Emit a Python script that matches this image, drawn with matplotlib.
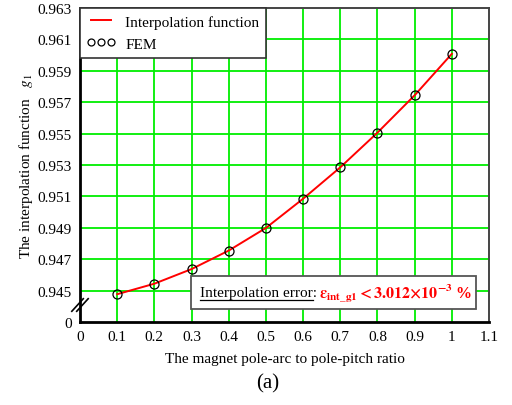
import matplotlib
matplotlib.use("Agg")
import matplotlib.pyplot as plt
from matplotlib.patches import Rectangle
from matplotlib.lines import Line2D

plt.rcParams['font.family'] = ['Liberation Serif', 'DejaVu Serif']
plt.rcParams['mathtext.fontset'] = 'stix'

ratio = [0.1, 0.2, 0.3, 0.4, 0.5, 0.6, 0.7, 0.8, 0.9, 1.0]
g1_fem = [0.94477, 0.94544, 0.94637, 0.94755, 0.94899, 0.95085, 0.95285, 0.95506, 0.95744, 0.96008]
g1_interp = [0.94477, 0.94544, 0.94637, 0.94755, 0.94899, 0.95085, 0.95285, 0.95506, 0.95744, 0.96008]
xticks = [0, 0.1, 0.2, 0.3, 0.4, 0.5, 0.6, 0.7, 0.8, 0.9, 1, 1.1]
xtick_labels = ['0', '0.1', '0.2', '0.3', '0.4', '0.5', '0.6', '0.7', '0.8', '0.9', '1', '1.1']
yticks = [0.943, 0.945, 0.947, 0.949, 0.951, 0.953, 0.955, 0.957, 0.959, 0.961, 0.963]
ytick_labels = ['0', '0.945', '0.947', '0.949', '0.951', '0.953', '0.955', '0.957', '0.959', '0.961', '0.963']

fig = plt.figure(figsize=(5.12, 4.06), dpi=100)
ax = fig.add_axes([80/512, (406-323)/406, 409/512, 314/406])

ax.set_xlim(0, 1.1)
ax.set_ylim(0.943, 0.963)
ax.set_xticks(xticks)
ax.set_xticklabels(xtick_labels)
ax.set_yticks(yticks)
ax.set_yticklabels(ytick_labels)
ax.tick_params(length=0, labelsize=11, pad=6)

for xv in xticks[1:-1]:
    ax.axvline(xv, color='#00ee00', lw=1.3, zorder=1)
for yv in yticks[1:-1]:
    ax.axhline(yv, color='#00ee00', lw=1.3, zorder=1)

ax.plot(ratio, g1_interp, color='#ff0000', lw=1.4, zorder=3)
ax.plot(ratio, g1_fem, ls='none', marker='o', ms=6.5, mfc='none', mec='black', mew=0.9, zorder=4)

for side in ['left', 'bottom']:
    ax.spines[side].set_linewidth(2.0)
    ax.spines[side].set_color('black')
for side in ['top', 'right']:
    ax.spines[side].set_linewidth(1.4)
    ax.spines[side].set_color('#444444')

handles = [Line2D([], [], color='#ff0000', lw=1.4),
           Line2D([], [], ls='none', marker='o', ms=5, mfc='none', mec='black', mew=0.9)]
leg = ax.legend(handles, ['Interpolation function', 'FEM'], loc='upper left',
                bbox_to_anchor=(0, 1), borderaxespad=0, fancybox=False, framealpha=1,
                edgecolor='#333333', numpoints=3, fontsize=11, handlelength=1.9,
                handletextpad=0.6, borderpad=0.45, labelspacing=0.55)
leg.get_frame().set_linewidth(1.2)
leg.set_zorder(6)

# axis break marks
yc = (323-306)/314
for dx in (-0.006, 0.006):
    ax.plot([-0.014 + dx, 0.014 + dx], [yc - 0.02, yc + 0.02], transform=ax.transAxes,
            color='black', lw=1.2, clip_on=False, zorder=7)

# error annotation box
bx0, bx1 = (191-80)/409, (476-80)/409
by0, by1 = (323-310)/314, (323-277)/314
ax.add_patch(Rectangle((bx0, by0), bx1-bx0, by1-by0, transform=ax.transAxes,
                       facecolor='white', edgecolor='#555555', lw=1.3, zorder=6))
ax.text((200-80)/409, (323-294)/314, 'Interpolation error:', transform=ax.transAxes,
        fontsize=11, va='center', ha='left', zorder=7)
ax.plot([(200-80)/409, (313-80)/409], [(323-301)/314]*2, transform=ax.transAxes,
        color='black', lw=0.9, zorder=7)
ax.text((319-80)/409, (323-294)/314,
        r'$\mathbf{\varepsilon_{int\_g1}<3.012{\times}10^{-3}}$ %',
        transform=ax.transAxes, fontsize=11.5, color='#ff0000', fontweight='bold',
        va='center', ha='left', zorder=7)

ax.set_xlabel('The magnet pole-arc to pole-pitch ratio', fontsize=11, labelpad=6)
ax.set_ylabel(r'The interpolation function   $g_1$', fontsize=11, labelpad=2)
fig.text(268/512, 1 - 384/406, '(a)', fontsize=15, ha='center', va='center')

fig.savefig('out.png', dpi=100)
